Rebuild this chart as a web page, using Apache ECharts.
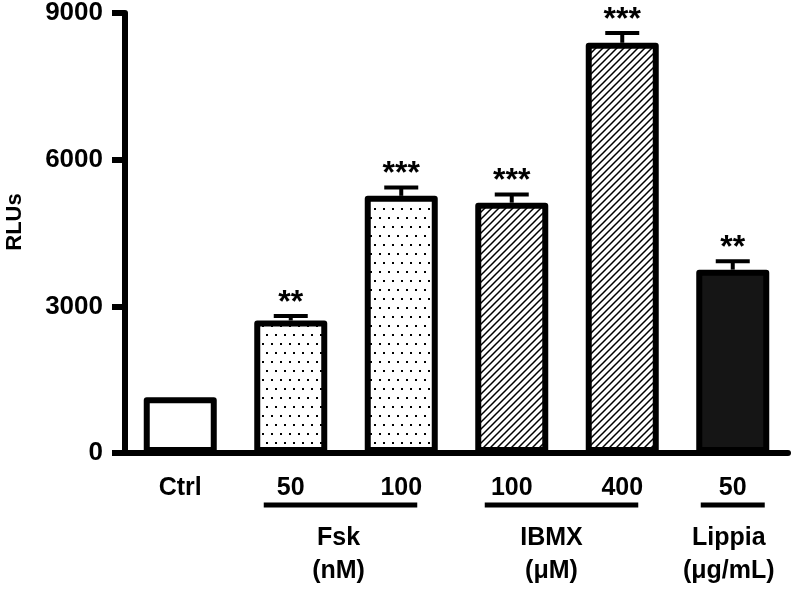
<!DOCTYPE html>
<html>
<head>
<meta charset="utf-8">
<script src="https://cdn.jsdelivr.net/npm/echarts@6/dist/echarts.min.js"></script>
<style>
html,body{margin:0;padding:0;background:#fff;}
#chart{width:792px;height:594px;}
</style>
</head>
<body>
<div id="chart"></div>
<script>
// ---- data ----
const categories = ['Ctrl', '50', '100', '100', '400', '50'];
const means = [1140, 2710, 5260, 5120, 8390, 3750];
const sem = [0, 90, 170, 170, 200, 170];
const significance = ['', '**', '***', '***', '***', '**'];
const fillTypes = ['none', 'dots', 'dots', 'hatch', 'hatch', 'solid'];
const groupNames = ['Fsk', 'IBMX', 'Lippia'];
const groupUnits = ['(nM)', '(\u03bcM)', '(\u03bcg/mL)'];
const groupFirst = [1, 3, 5];
const groupLast = [2, 4, 5];
const yMin = 0, yMax = 9000, yInterval = 3000;
const yTitle = 'RLUs';

// ---- styles ----
const FONT = "'Liberation Sans', Arial, Helvetica, sans-serif";

function dotsPattern() {
  const c = document.createElement('canvas');
  c.width = 9; c.height = 18;
  const g = c.getContext('2d');
  g.fillStyle = '#fff'; g.fillRect(0, 0, 9, 18);
  g.fillStyle = '#000';
  g.fillRect(1, 1, 2, 2);
  g.fillRect(5, 10, 2, 2);
  return c;
}
function hatchPattern() {
  const s = 7;
  const c = document.createElement('canvas');
  c.width = s; c.height = s;
  const g = c.getContext('2d');
  g.fillStyle = '#fff'; g.fillRect(0, 0, s, s);
  g.strokeStyle = '#000'; g.lineWidth = 1.5;
  g.beginPath();
  g.moveTo(-1, s + 1); g.lineTo(s + 1, -1);
  g.moveTo(-1, 1); g.lineTo(1, -1);
  g.moveTo(s - 1, s + 1); g.lineTo(s + 1, s - 1);
  g.stroke();
  return c;
}
const fills = {
  none: '#ffffff',
  dots: { image: dotsPattern(), repeat: 'repeat' },
  hatch: { image: hatchPattern(), repeat: 'repeat' },
  solid: '#151515'
};

const chart = echarts.init(document.getElementById('chart'), null, { renderer: 'canvas' });

const barData = means.map((v, i) => ({
  value: v,
  itemStyle: { color: fills[fillTypes[i]] }
}));
const errData = means.map((v, i) => [i, v, v + sem[i]]);

const option = {
  animation: false,
  backgroundColor: '#fff',
  grid: { left: 125, right: 4, top: 13, bottom: 141, containLabel: false, outerBoundsMode: 'none' },
  xAxis: {
    type: 'category',
    data: categories,
    axisLine: { lineStyle: { color: '#000', width: 6 } },
    axisTick: { alignWithLabel: true, length: 11, lineStyle: { color: '#000', width: 6 } },
    axisLabel: { color: '#000', fontSize: 25, fontWeight: 'bold', fontFamily: FONT, margin: 23 }
  },
  yAxis: {
    type: 'value',
    min: yMin, max: yMax, interval: yInterval,
    name: yTitle,
    nameLocation: 'middle',
    nameRotate: 90,
    nameGap: 99,
    nameTextStyle: { color: '#000', fontSize: 22, fontWeight: 'bold', fontFamily: FONT, padding: [0, 0, 0, 22] },
    splitLine: { show: false },
    axisLine: { show: true, lineStyle: { color: '#000', width: 6 } },
    axisTick: { show: true, length: 13, lineStyle: { color: '#000', width: 6 } },
    axisLabel: {
      color: '#000', fontSize: 26, fontWeight: 'bold', fontFamily: FONT, margin: 22,
      formatter: function (v) { return String(v); }
    }
  },
  series: [
    {
      type: 'bar',
      data: barData,
      barWidth: 73,
      itemStyle: { borderColor: '#000', borderWidth: 6, borderJoin: 'round' },
      z: 2
    },
    {
      type: 'custom',
      data: errData,
      encode: { x: 0, y: 1 },
      z: 3,
      renderItem: function (params, api) {
        const i = api.value(0);
        const pMean = api.coord([i, api.value(1)]);
        const pTop = api.coord([i, api.value(2)]);
        const children = [];
        if (pTop[1] < pMean[1] - 1) {
          children.push({
            type: 'line',
            shape: { x1: pMean[0], y1: pMean[1], x2: pTop[0], y2: pTop[1] },
            style: { stroke: '#000', lineWidth: 4 }
          });
          children.push({
            type: 'line',
            shape: { x1: pTop[0] - 17, y1: pTop[1], x2: pTop[0] + 17, y2: pTop[1] },
            style: { stroke: '#000', lineWidth: 4 }
          });
        }
        const sig = significance[params.dataIndex];
        if (sig) {
          children.push({
            type: 'text',
            x: pTop[0], y: pTop[1] - 13,
            style: {
              text: sig, fill: '#000', fontSize: 32, fontWeight: 'bold', fontFamily: FONT,
              align: 'center', verticalAlign: 'middle'
            }
          });
        }
        return { type: 'group', children: children };
      }
    }
  ]
};
chart.setOption(option);

// group annotations under the x axis, positioned via the axis scale
const padLeft = 27, padRight = 16, padSingle = 32;
const textShift = [-2, -10, -4];
const axisY = chart.convertToPixel({ yAxisIndex: 0 }, 0);
const graphics = [];
groupNames.forEach((name, gi) => {
  const x1 = chart.convertToPixel({ xAxisIndex: 0 }, groupFirst[gi]);
  const x2 = chart.convertToPixel({ xAxisIndex: 0 }, groupLast[gi]);
  let a, b;
  if (groupFirst[gi] === groupLast[gi]) { a = x1 - padSingle; b = x2 + padSingle; }
  else { a = x1 - padLeft; b = x2 + padRight; }
  const cx = (a + b) / 2 + textShift[gi];
  graphics.push({
    type: 'line',
    shape: { x1: a, y1: axisY + 52, x2: b, y2: axisY + 52 },
    style: { stroke: '#000', lineWidth: 5 }
  });
  graphics.push({
    type: 'text',
    x: cx, y: axisY + 85,
    style: { text: name, fill: '#000', fontSize: 25, fontWeight: 'bold', fontFamily: FONT, align: 'center', verticalAlign: 'middle' }
  });
  graphics.push({
    type: 'text',
    x: cx, y: axisY + 118,
    style: { text: groupUnits[gi], fill: '#000', fontSize: 25, fontWeight: 'bold', fontFamily: FONT, align: 'center', verticalAlign: 'middle' }
  });
});
chart.setOption({ graphic: graphics });
</script>
</body>
</html>
